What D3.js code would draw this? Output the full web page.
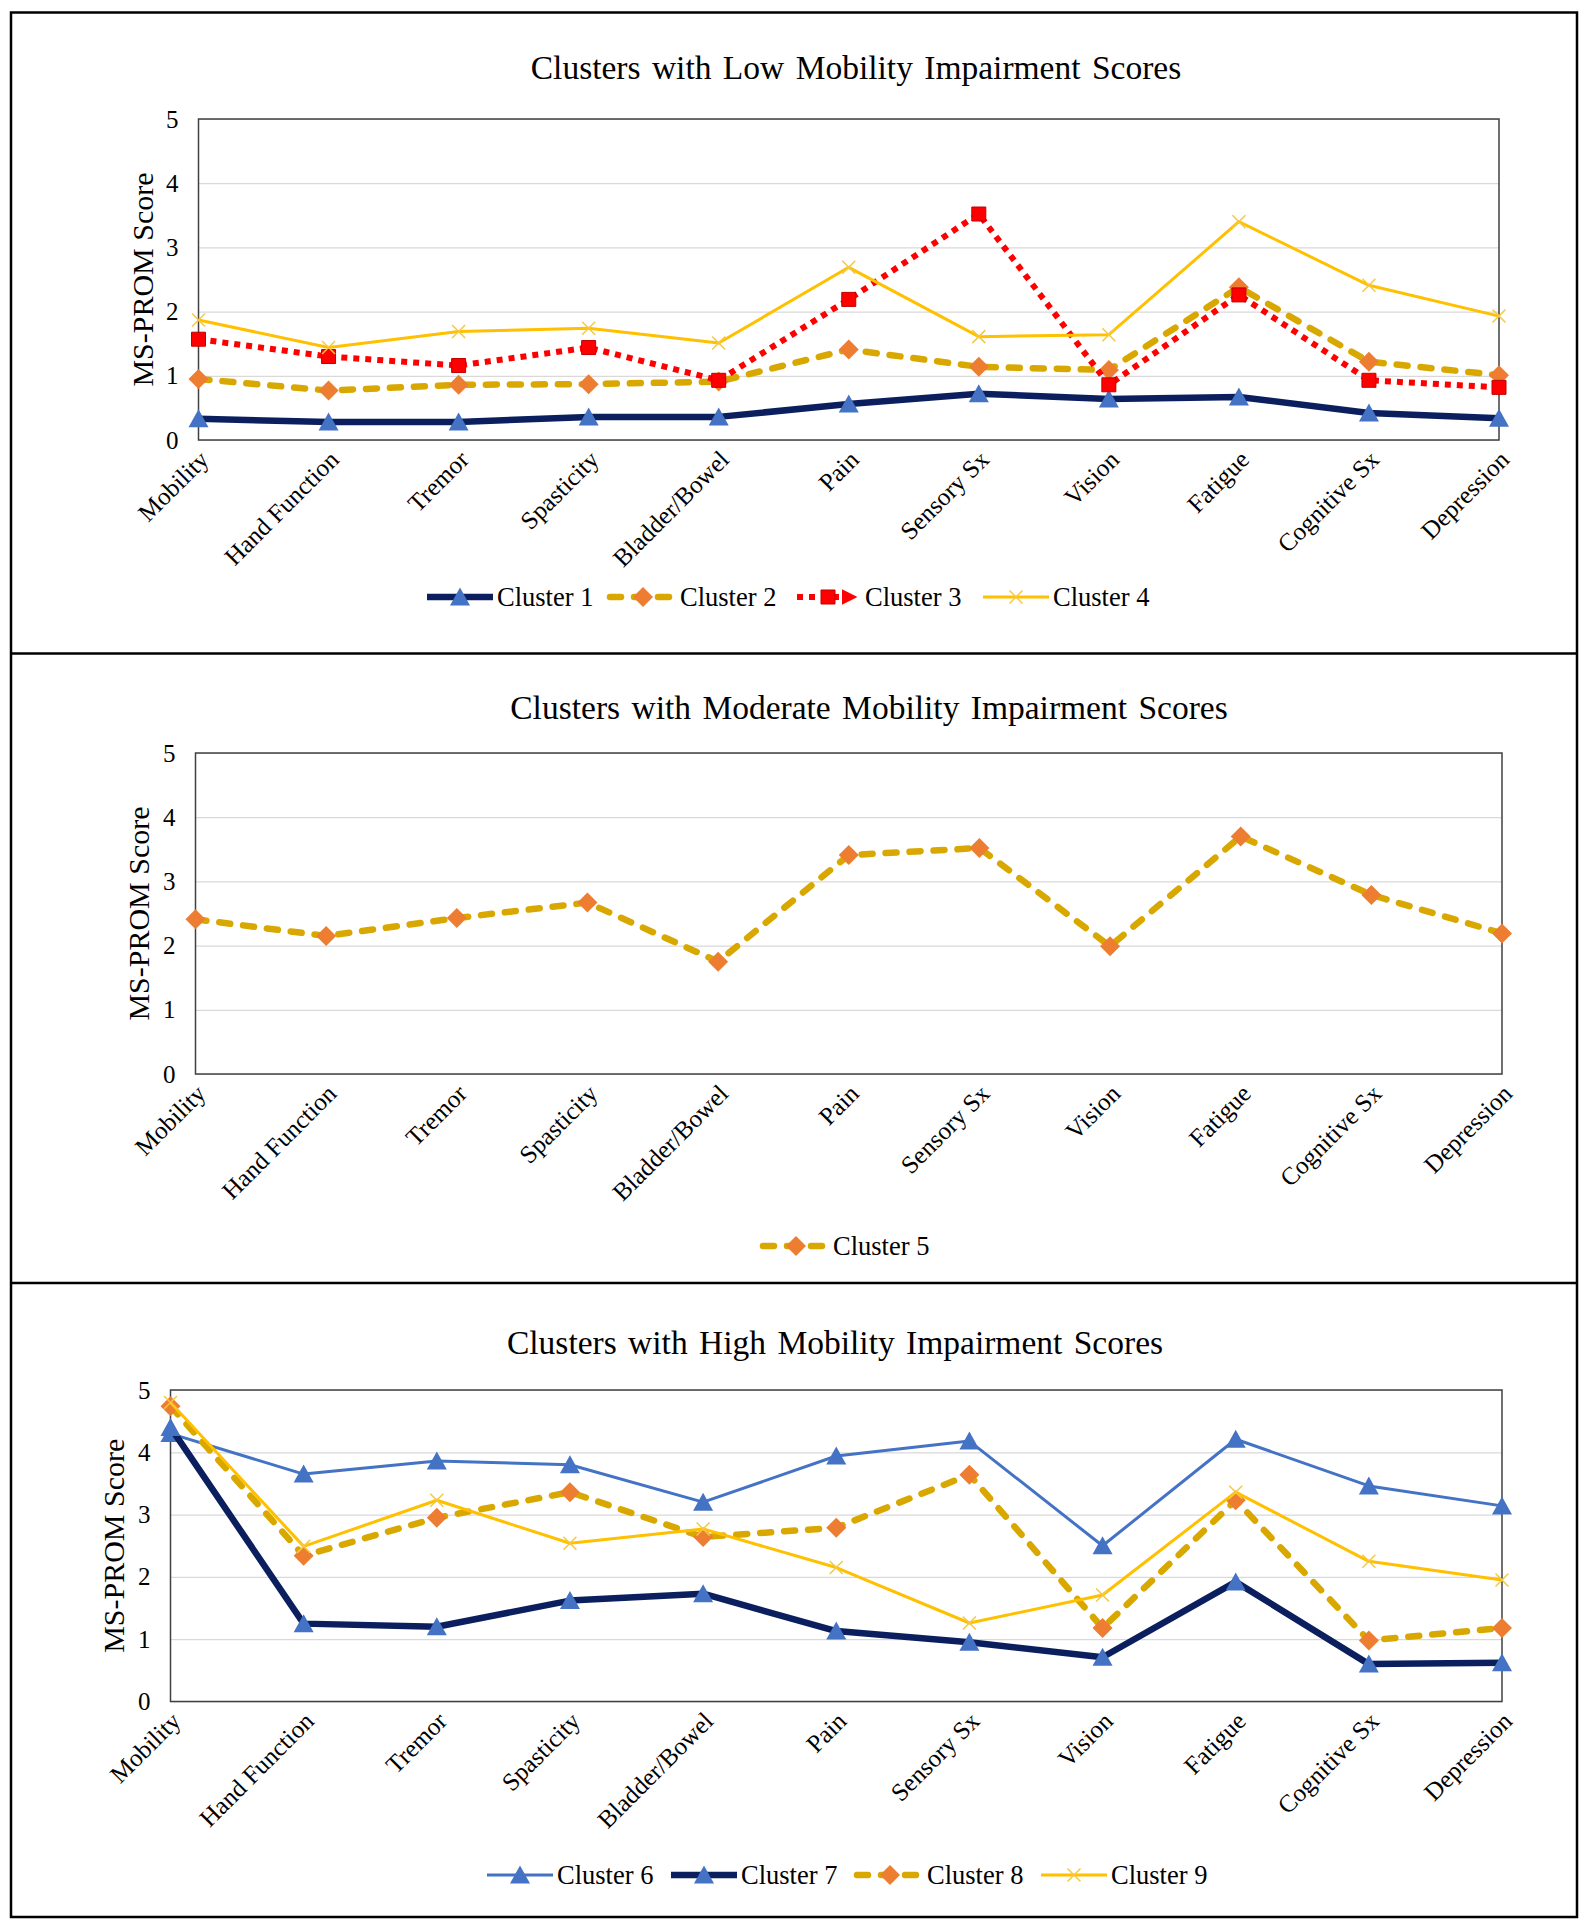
<!DOCTYPE html>
<html><head><meta charset="utf-8">
<script src="https://cdn.jsdelivr.net/npm/d3@7"></script>
<style>
body{margin:0;background:#fff}
svg{display:block}
text{font-family:"Liberation Serif","Times New Roman",serif;fill:#000}
</style>
</head><body>
<svg id="c" width="1584" height="1920"></svg>
<script>
// ---------------- DATA ----------------
const categories = ["Mobility","Hand Function","Tremor","Spasticity","Bladder/Bowel","Pain","Sensory Sx","Vision","Fatigue","Cognitive Sx","Depression"];
const yTickValues = [0,1,2,3,4,5];
const panelTitles = [
  "Clusters with Low Mobility Impairment Scores",
  "Clusters with Moderate Mobility Impairment Scores",
  "Clusters with High Mobility Impairment Scores"
];
const yAxisTitle = "MS-PROM Score";

const cluster1 = [0.33,0.28,0.28,0.36,0.36,0.56,0.72,0.64,0.67,0.42,0.34];
const cluster2 = [0.95,0.77,0.86,0.87,0.91,1.41,1.14,1.09,2.38,1.22,1.01];
const cluster3 = [1.57,1.30,1.16,1.44,0.93,2.19,3.52,0.86,2.26,0.93,0.82];
const cluster4 = [1.87,1.44,1.69,1.74,1.51,2.69,1.61,1.64,3.40,2.41,1.93];

const cluster5 = [2.41,2.15,2.43,2.67,1.75,3.41,3.52,1.99,3.70,2.79,2.19];

const cluster6 = [4.30,3.65,3.86,3.80,3.20,3.94,4.18,2.50,4.21,3.46,3.14];
const cluster7 = [4.40,1.25,1.20,1.62,1.73,1.13,0.95,0.71,1.92,0.60,0.62];
const cluster8 = [4.74,2.34,2.95,3.36,2.64,2.79,3.64,1.18,3.23,0.98,1.18];
const cluster9 = [4.80,2.49,3.23,2.54,2.77,2.15,1.26,1.71,3.36,2.25,1.95];

// ---------------- STYLES ----------------
const styles = {
  navy:    {stroke:"#0B1F5E", width:6.5, dash:null,    cap:"butt",  marker:"triangle", fill:"#4472C4", mstroke:"none"},
  goldDash:{stroke:"#D9A800", width:6.5, dash:"11,13", cap:"round", marker:"diamond",  fill:"#ED7D31", mstroke:"none"},
  redDot:  {stroke:"#FF0000", width:6,   dash:"6,6",   cap:"butt",  marker:"square",   fill:"#FF0000", mstroke:"#C00000"},
  goldThin:{stroke:"#FFC000", width:3,   dash:null,    cap:"butt",  marker:"x",        fill:"none",    mstroke:"#F5C842"},
  blueThin:{stroke:"#4472C4", width:3,   dash:null,    cap:"butt",  marker:"triangle", fill:"#4472C4", mstroke:"none"}
};
const markerPaths = {
  triangle:"M0,-9.5L10,8.5L-10,8.5Z",
  diamond:"M0,-10L10,0L0,10L-10,0Z",
  square:"M-7,-7H7V7H-7Z",
  x:"M-6.5,-6.5L6.5,6.5M-6.5,6.5L6.5,-6.5"
};

const panels = [
  {title:panelTitles[0], titleX:856, titleY:79, ylabX:142,
   box:{l:198.5,r:1499,t:119,b:440}, legendY:597, legendX:[427,610,795,983],
   series:[{name:"Cluster 1",values:cluster1,style:"navy"},
           {name:"Cluster 2",values:cluster2,style:"goldDash"},
           {name:"Cluster 3",values:cluster3,style:"redDot",arrow:true},
           {name:"Cluster 4",values:cluster4,style:"goldThin"}]},
  {title:panelTitles[1], titleX:869, titleY:719, ylabX:138,
   box:{l:195.5,r:1502,t:753,b:1074}, legendY:1246, legendX:[763],
   series:[{name:"Cluster 5",values:cluster5,style:"goldDash"}]},
  {title:panelTitles[2], titleX:835, titleY:1354, ylabX:113,
   box:{l:170.5,r:1502,t:1390,b:1701.5}, legendY:1875, legendX:[487,671,857,1041],
   series:[{name:"Cluster 6",values:cluster6,style:"blueThin"},
           {name:"Cluster 7",values:cluster7,style:"navy"},
           {name:"Cluster 8",values:cluster8,style:"goldDash"},
           {name:"Cluster 9",values:cluster9,style:"goldThin"}]}
];

const svg = d3.select("#c");
const defs = svg.append("defs");
defs.append("marker").attr("id","arrowRed").attr("viewBox","0 0 10 10")
  .attr("refX",2).attr("refY",5).attr("markerWidth",2.6).attr("markerHeight",2.6)
  .attr("orient","auto").attr("markerUnits","strokeWidth")
  .append("path").attr("d","M0,0L10,5L0,10Z").attr("fill","#FF0000");

// Outer frame and separators
svg.append("rect").attr("x",11).attr("y",12.5).attr("width",1566).attr("height",1904.5)
  .attr("fill","none").attr("stroke","#000").attr("stroke-width",2.5);
[653.5,1283].forEach(y=>svg.append("line").attr("x1",11).attr("x2",1577).attr("y1",y).attr("y2",y)
  .attr("stroke","#000").attr("stroke-width",2.5));

function drawMarker(g, st, x, y){
  g.append("path").attr("d",markerPaths[st.marker]).attr("transform",`translate(${x},${y})`)
    .attr("fill",st.fill).attr("stroke",st.mstroke)
    .attr("stroke-width",st.marker==="x"?1.5:1);
}

const FONT = "Liberation Serif, Times New Roman, serif";

panels.forEach(p=>{
  const g = svg.append("g");
  const x = d3.scalePoint().domain(categories).range([p.box.l,p.box.r]).padding(0);
  const y = d3.scaleLinear().domain([0,5]).range([p.box.b,p.box.t]);
  const w = p.box.r-p.box.l;

  // title
  g.append("text").attr("x",p.titleX).attr("y",p.titleY).attr("text-anchor","middle")
    .style("font-size","33.5px").style("word-spacing","3px").text(p.title);

  // gridlines
  const grid = g.append("g").attr("transform",`translate(${p.box.l},0)`)
    .call(d3.axisLeft(y).tickValues(yTickValues).tickSize(-w).tickFormat(""));
  grid.select(".domain").remove();
  grid.selectAll("line").attr("stroke","#D9D9D9").attr("stroke-width",1.2);

  // plot border
  g.append("rect").attr("x",p.box.l).attr("y",p.box.t).attr("width",w).attr("height",p.box.b-p.box.t)
    .attr("fill","none").attr("stroke","#404040").attr("stroke-width",1.5);

  // y axis labels
  const ya = g.append("g").attr("transform",`translate(${p.box.l},0)`)
    .call(d3.axisLeft(y).tickValues(yTickValues).tickSize(0).tickPadding(20).tickFormat(d3.format("d")));
  ya.select(".domain").remove();
  ya.selectAll("text").style("font-size","25px").style("font-family",FONT).attr("fill","#000");

  // x axis labels
  const xa = g.append("g").attr("transform",`translate(0,${p.box.b})`)
    .call(d3.axisBottom(x).tickSize(0).tickPadding(0));
  xa.select(".domain").remove();
  xa.selectAll("text").attr("y",0).attr("dy","0.35em").attr("text-anchor","end")
    .attr("transform","translate(5,15) rotate(-45)")
    .style("font-size","25px").style("font-family",FONT).attr("fill","#000");

  // y axis title
  g.append("text").attr("transform",`translate(${p.ylabX},${(p.box.t+p.box.b)/2}) rotate(-90)`)
    .attr("text-anchor","middle").attr("dy","0.35em").style("font-size","30px").text(yAxisTitle);

  // series
  const line = d3.line().x((d,i)=>x(categories[i])).y(d=>y(d));
  p.series.forEach(s=>{
    const st = styles[s.style];
    const sg = g.append("g");
    sg.append("path").datum(s.values).attr("d",line).attr("fill","none")
      .attr("stroke",st.stroke).attr("stroke-width",st.width)
      .attr("stroke-dasharray",st.dash).attr("stroke-linecap",st.cap).attr("stroke-linejoin","round");
    s.values.forEach((v,i)=>drawMarker(sg,st,x(categories[i]),y(v)));
  });

  // legend
  p.series.forEach((s,k)=>{
    const st = styles[s.style];
    const lx = p.legendX[k], ly = p.legendY;
    const lg = g.append("g");
    const len = s.arrow ? 50 : 66;
    const ln = lg.append("line").attr("x1",lx+(s.arrow?2:0)).attr("x2",lx+len).attr("y1",ly).attr("y2",ly)
      .attr("stroke",st.stroke).attr("stroke-width",st.width)
      .attr("stroke-dasharray",st.dash).attr("stroke-linecap",st.cap);
    if(s.arrow) ln.attr("marker-end","url(#arrowRed)");
    drawMarker(lg,st,lx+33,ly);
    lg.append("text").attr("x",lx+70).attr("y",ly).attr("dy","0.35em")
      .style("font-size","26.5px").text(s.name);
  });
});
</script>
</body></html>
